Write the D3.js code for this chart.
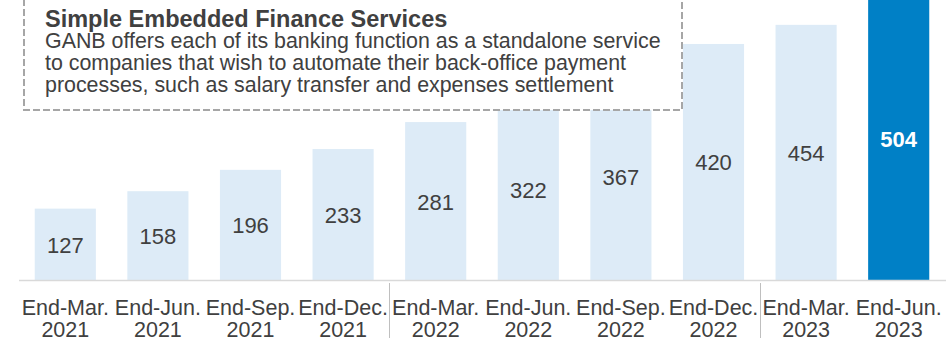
<!DOCTYPE html>
<html>
<head>
<meta charset="utf-8">
<script src="https://cdn.jsdelivr.net/npm/d3@7"></script>
<style>
  html, body { margin: 0; padding: 0; background: #fff; }
  svg { display: block; font-family: Arial, "Liberation Sans", sans-serif; }
</style>
</head>
<body>
<svg id="chart" width="951" height="338"></svg>
<script>
// Quarter-end periods (two-line axis labels)
const periods = ["End-Mar.", "End-Jun.", "End-Sep.", "End-Dec.", "End-Mar.", "End-Jun.", "End-Sep.", "End-Dec.", "End-Mar.", "End-Jun."];
const years   = ["2021", "2021", "2021", "2021", "2022", "2022", "2022", "2022", "2023", "2023"];
// Value per period
const values  = [127, 158, 196, 233, 281, 322, 367, 420, 454, 504];
// Callout text
const calloutTitle = "Simple Embedded Finance Services";
const calloutLines = [
  "GANB offers each of its banking function as a standalone service",
  "to companies that wish to automate their back-office payment",
  "processes, such as salary transfer and expenses settlement"
];

const W = 951, H = 338;
const baseY = 280;
const textColor = "#404040";
const lightBar = "#ddebf7";
const darkBar = "#0080c6";

const svg = d3.select("#chart");
const keys = values.map((_, i) => i);

const x = d3.scaleBand()
  .domain(keys)
  .range([19, 945])
  .paddingInner(0.34)
  .paddingOuter(0.17);

const y = d3.scaleLinear()
  .domain([0, 500])
  .range([baseY, -1]);

// Bars
svg.append("g").selectAll("rect")
  .data(values)
  .join("rect")
  .attr("x", (d, i) => x(i))
  .attr("width", x.bandwidth())
  .attr("y", d => y(d))
  .attr("height", d => baseY - y(d))
  .attr("fill", (d, i) => i === values.length - 1 ? darkBar : lightBar);

// Value labels, centred inside each bar
svg.append("g").selectAll("text")
  .data(values)
  .join("text")
  .attr("x", (d, i) => x(i) + x.bandwidth() / 2)
  .attr("y", d => (y(d) + baseY) / 2 + 1)
  .attr("text-anchor", "middle")
  .attr("dominant-baseline", "central")
  .attr("font-size", 22)
  .attr("font-weight", (d, i) => i === values.length - 1 ? "bold" : "normal")
  .attr("fill", (d, i) => i === values.length - 1 ? "#ffffff" : textColor)
  .text(d => d);

// Baseline
svg.append("line")
  .attr("x1", 19).attr("x2", 946)
  .attr("y1", baseY + 0.5).attr("y2", baseY + 0.5)
  .attr("stroke", "#d9d9d9")
  .attr("stroke-width", 1.5);

// Year separators between the last quarter of a year and the next
const sepIdx = [4, 8];
svg.append("g").selectAll("line")
  .data(sepIdx)
  .join("line")
  .attr("x1", i => Math.round((x(i - 1) + x.bandwidth() + x(i)) / 2) + 0.5)
  .attr("x2", i => Math.round((x(i - 1) + x.bandwidth() + x(i)) / 2) + 0.5)
  .attr("y1", baseY + 3)
  .attr("y2", H)
  .attr("stroke", "#bfbfbf")
  .attr("stroke-width", 1);

// Axis labels
const lab = svg.append("g").selectAll("text")
  .data(keys)
  .join("text")
  .attr("text-anchor", "middle")
  .attr("font-size", 21.5)
  .attr("fill", textColor);
lab.append("tspan")
  .attr("x", i => x(i) + x.bandwidth() / 2)
  .attr("y", 314.5)
  .text(i => periods[i]);
lab.append("tspan")
  .attr("x", i => x(i) + x.bandwidth() / 2)
  .attr("y", 337)
  .text(i => years[i]);

// Callout box
svg.append("rect")
  .attr("x", 24).attr("y", -10)
  .attr("width", 682 - 24).attr("height", 110 + 10)
  .attr("fill", "#ffffff")
  .attr("stroke", "#a6a6a6")
  .attr("stroke-width", 2)
  .attr("stroke-dasharray", "7,3");

svg.append("text")
  .attr("x", 45).attr("y", 27)
  .attr("font-size", 23.5)
  .attr("font-weight", "bold")
  .attr("fill", textColor)
  .text(calloutTitle);

svg.append("g").selectAll("text")
  .data(calloutLines)
  .join("text")
  .attr("x", 45)
  .attr("y", (d, i) => 48.3 + i * 21.7)
  .attr("font-size", 21.4)
  .attr("fill", textColor)
  .text(d => d);
</script>
</body>
</html>
